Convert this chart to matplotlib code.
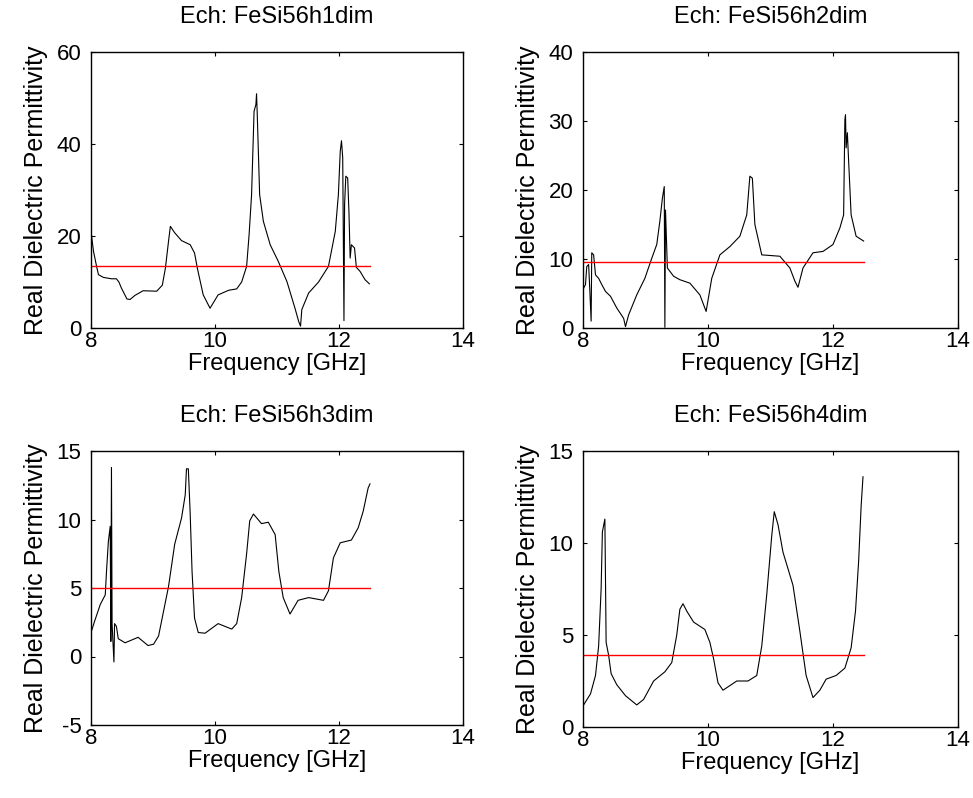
import matplotlib
matplotlib.use('Agg')
import matplotlib.pyplot as plt

plt.rcParams['font.family'] = ['Liberation Sans', 'DejaVu Sans']
plt.rcParams['axes.unicode_minus'] = False

# --- Ech: FeSi56h1dim ---
freq_h1 = [8.00, 8.01, 8.04, 8.09, 8.12, 8.20, 8.33, 8.41, 8.45, 8.49, 8.58, 8.63,
           8.71, 8.84, 9.06, 9.15, 9.20, 9.25, 9.28, 9.35, 9.46, 9.60, 9.67, 9.72,
           9.81, 9.92, 10.05, 10.22, 10.35, 10.43, 10.51, 10.55, 10.59, 10.63, 10.66,
           10.67, 10.68, 10.72, 10.78, 10.89, 11.02, 11.16, 11.29, 11.35, 11.38, 11.40,
           11.51, 11.67, 11.83, 11.94, 11.99, 12.02, 12.04, 12.06, 12.08, 12.09, 12.11,
           12.14, 12.16, 12.18, 12.20, 12.25, 12.28, 12.34, 12.42, 12.49]
perm_h1 = [21.7, 19.9, 16.7, 13.4, 11.6, 11.0, 10.7, 10.7, 10.0, 8.7, 6.3, 6.2,
           7.1, 8.1, 8.0, 9.3, 13.0, 18.8, 22.1, 20.7, 19.0, 18.1, 16.3, 12.7,
           7.2, 4.3, 7.2, 8.2, 8.5, 10.0, 13.4, 20.3, 29.0, 47.1, 48.6,
           50.9, 47.1, 29.0, 23.2, 18.1, 14.5, 10.1, 4.3, 1.4, 0.4, 4.0,
           7.6, 10.0, 13.4, 21.0, 29.0, 38.4, 40.7, 37.0, 1.6, 26.8, 33.0,
           32.6, 25.4, 15.2, 18.1, 17.4, 13.2, 12.3, 10.5, 9.6]
mean_h1 = 13.55

# --- Ech: FeSi56h2dim ---
freq_h2 = [8.00, 8.04, 8.06, 8.09, 8.11, 8.13, 8.14, 8.17, 8.20, 8.25, 8.30, 8.36,
           8.44, 8.54, 8.65, 8.68, 8.73, 8.86, 8.99, 9.10, 9.18, 9.23, 9.27, 9.30,
           9.31, 9.32, 9.35, 9.45, 9.55, 9.71, 9.87, 9.97, 10.06, 10.19, 10.35, 10.51,
           10.62, 10.67, 10.71, 10.75, 10.86, 11.15, 11.31, 11.39, 11.44, 11.52, 11.68,
           11.84, 12.00, 12.11, 12.17, 12.19, 12.20, 12.21, 12.23, 12.25, 12.29, 12.37,
           12.49]
perm_h2 = [5.6, 6.3, 8.9, 9.2, 5.3, 1.0, 10.9, 10.6, 7.7, 7.2, 6.3, 5.3,
           4.6, 2.9, 1.4, 0.2, 1.9, 4.8, 7.2, 10.1, 12.1, 15.5, 18.8, 20.5,
           0.1, 17.1, 8.7, 7.5, 7.0, 6.5, 4.8, 2.4, 7.2, 10.6, 11.8, 13.3,
           16.4, 22.0, 21.7, 15.0, 10.6, 10.4, 8.7, 6.8, 5.9, 8.7, 10.9,
           11.1, 12.1, 14.5, 16.4, 30.2, 30.9, 26.1, 28.3, 24.2, 16.4, 13.3,
           12.6]
mean_h2 = 9.57

# --- Ech: FeSi56h3dim ---
freq_h3 = [8.00, 8.06, 8.15, 8.23, 8.25, 8.28, 8.31, 8.32, 8.33, 8.34, 8.37, 8.38,
           8.41, 8.44, 8.55, 8.76, 8.92, 9.01, 9.09, 9.17, 9.25, 9.35, 9.46, 9.52,
           9.54, 9.57, 9.60, 9.63, 9.67, 9.73, 9.84, 10.05, 10.27, 10.35, 10.43, 10.51,
           10.56, 10.62, 10.75, 10.86, 10.97, 11.03, 11.10, 11.21, 11.34, 11.51, 11.75,
           11.83, 11.91, 12.02, 12.20, 12.31, 12.39, 12.47, 12.50]
perm_h3 = [1.75, 2.6, 3.8, 4.5, 6.2, 8.4, 9.5, 1.1, 13.8, 2.4, -0.4, 2.4,
           2.2, 1.3, 1.0, 1.4, 0.8, 0.9, 1.5, 3.3, 5.1, 8.2, 10.1, 11.8,
           13.7, 13.7, 10.4, 6.2, 2.8, 1.75, 1.7, 2.4, 2.0, 2.4, 4.3, 7.5,
           9.9, 10.4, 9.7, 9.8, 8.9, 6.2, 4.3, 3.1, 4.1, 4.3, 4.1,
           4.8, 7.2, 8.3, 8.5, 9.4, 10.6, 12.3, 12.6]
mean_h3 = 5.0

# --- Ech: FeSi56h4dim ---
freq_h4 = [8.01, 8.12, 8.20, 8.25, 8.29, 8.31, 8.35, 8.37, 8.41, 8.45, 8.54, 8.68,
           8.86, 8.97, 9.13, 9.31, 9.42, 9.50, 9.55, 9.60, 9.66, 9.77, 9.95, 10.03,
           10.09, 10.16, 10.24, 10.46, 10.64, 10.78, 10.86, 10.94, 11.02, 11.06, 11.12,
           11.20, 11.36, 11.47, 11.57, 11.68, 11.79, 11.89, 12.05, 12.19, 12.29, 12.36,
           12.41, 12.45, 12.48]
perm_h4 = [1.2, 1.8, 2.8, 4.4, 7.5, 10.6, 11.3, 4.6, 3.9, 2.9, 2.3, 1.7,
           1.2, 1.5, 2.5, 3.0, 3.5, 5.0, 6.4, 6.7, 6.3, 5.7, 5.3, 4.6,
           3.7, 2.4, 2.0, 2.5, 2.5, 2.8, 4.4, 7.2, 10.4, 11.7, 11.0,
           9.5, 7.7, 5.2, 2.8, 1.6, 2.0, 2.6, 2.8, 3.2, 4.3, 6.3,
           9.0, 12.0, 13.6]
mean_h4 = 3.9

titles = ['Ech: FeSi56h1dim', 'Ech: FeSi56h2dim', 'Ech: FeSi56h3dim', 'Ech: FeSi56h4dim']
freqs = [freq_h1, freq_h2, freq_h3, freq_h4]
perms = [perm_h1, perm_h2, perm_h3, perm_h4]
means = [mean_h1, mean_h2, mean_h3, mean_h4]
ylims = [(0, 60), (0, 40), (-5, 15), (0, 15)]
yticks = [[0, 20, 40, 60], [0, 10, 20, 30, 40], [-5, 0, 5, 10, 15], [0, 5, 10, 15]]
xticks = [8, 10, 12, 14]
f_start, f_stop = 8.0, 12.5

W, H = 973, 798
fig = plt.figure(figsize=(W / 100, H / 100), dpi=100)

# axes boxes in pixels: left, top, right, bottom
boxes = [(91, 52, 463, 328), (583, 52, 958, 328),
         (91, 451, 463, 725), (583, 451, 958, 727)]

for i, (l, t, r, b) in enumerate(boxes):
    ax = fig.add_axes([l / W, 1 - b / H, (r - l) / W, (b - t) / H])
    ax.plot(freqs[i], perms[i], color='black', lw=0.8)
    ax.plot([f_start, f_stop], [means[i], means[i]], color='red', lw=1.0)
    ax.set_xlim(8, 14)
    ax.set_ylim(*ylims[i])
    ax.set_xticks(xticks)
    ax.set_yticks(yticks[i])
    ax.tick_params(direction='in', top=True, right=True, length=3, labelsize=16)
    ax.tick_params(axis='x', pad=2)
    ax.tick_params(axis='y', pad=7)
    for s in ax.spines.values():
        s.set_linewidth(1.0)
    ax.set_title(titles[i], fontsize=17, pad=21)
    ax.set_xlabel('Frequency [GHz]', fontsize=17, labelpad=1)
    ax.set_ylabel('Real Dielectric Permittivity', fontsize=18, labelpad=6)

fig.savefig('out.png', dpi=100)
